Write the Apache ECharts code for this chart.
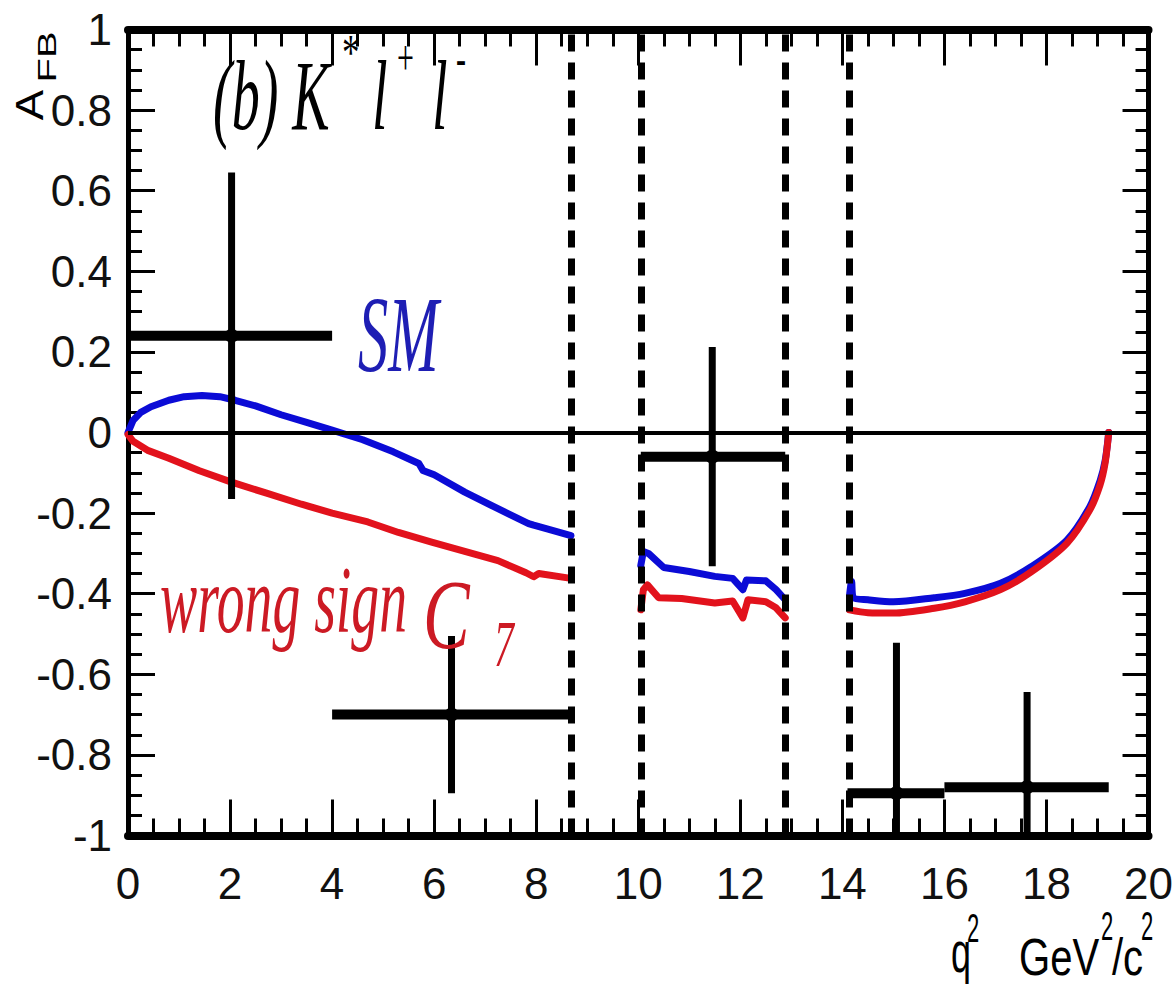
<!DOCTYPE html>
<html>
<head>
<meta charset="utf-8">
<script src="https://cdn.jsdelivr.net/npm/echarts@6/dist/echarts.min.js"></script>
<style>
html,body{margin:0;padding:0;background:#fff;}
#chart{width:1176px;height:997px;}
</style>
</head>
<body>
<div id="chart"></div>
<script>
// ---------------- data ----------------
const xTickLabels = ['0','2','4','6','8','10','12','14','16','18','20'];
const yTickLabels = ['-1','-0.8','-0.6','-0.4','-0.2','0','0.2','0.4','0.6','0.8','1'];

// veto regions (vertical dashed lines), q^2 in GeV^2/c^2
const vetoEdges = [8.68, 10.05, 12.88, 14.14];

// measured points: bin low, bin high, centre x, A_FB, error
const binLo  = [0.0, 4.0, 10.05, 14.1, 16.0];
const binHi  = [4.0, 8.68, 12.88, 16.0, 19.22];
const ptX    = [2.03, 6.34, 11.45, 15.06, 17.62];
const ptY    = [0.24, -0.70, -0.06, -0.895, -0.88];
const ptErr  = [0.405, 0.195, 0.272, 0.373, 0.236];

// SM prediction (blue), three q^2 segments
const smSeg1 = [[0,0.0],[0.1,0.03],[0.25,0.05],[0.45,0.064],[0.8,0.08],[1.1,0.089],[1.45,0.092],[1.8,0.089],[2.1,0.08],[2.5,0.066],[3.0,0.044],[3.5,0.025],[4.0,0.006],[4.6,-0.018],[5.2,-0.048],[5.7,-0.077],[5.78,-0.094],[6.0,-0.105],[6.6,-0.148],[7.2,-0.186],[7.85,-0.226],[7.95,-0.23],[8.3,-0.242],[8.68,-0.256]];
const smSeg2 = [[10.05,-0.33],[10.1,-0.295],[10.2,-0.3],[10.5,-0.335],[11.0,-0.345],[11.5,-0.357],[11.85,-0.362],[12.05,-0.39],[12.12,-0.366],[12.5,-0.368],[12.7,-0.39],[12.88,-0.415]];
const smSeg3 = [[14.14,-0.405],[14.18,-0.37],[14.22,-0.41],[14.5,-0.415],[15.0,-0.42],[15.8,-0.41],[16.4,-0.399],[17.1,-0.374],[17.7,-0.333],[18.4,-0.267],[18.85,-0.184],[19.05,-0.12],[19.15,-0.07],[19.22,0]];

// wrong-sign C7 prediction (red)
const c7Seg1 = [[0,-0.005],[0.1,-0.022],[0.4,-0.045],[0.8,-0.064],[1.4,-0.095],[2.0,-0.122],[2.7,-0.15],[3.4,-0.178],[4.0,-0.2],[4.7,-0.222],[5.3,-0.248],[5.95,-0.272],[6.6,-0.295],[7.25,-0.318],[7.8,-0.348],[7.95,-0.358],[8.05,-0.35],[8.68,-0.362]];
const c7Seg2 = [[10.05,-0.44],[10.1,-0.39],[10.18,-0.378],[10.4,-0.41],[10.85,-0.412],[11.5,-0.423],[11.85,-0.418],[12.05,-0.46],[12.15,-0.415],[12.5,-0.42],[12.7,-0.435],[12.88,-0.46]];
const c7Seg3 = [[14.14,-0.44],[14.5,-0.447],[15.0,-0.448],[15.8,-0.436],[16.4,-0.42],[17.1,-0.39],[17.7,-0.346],[18.4,-0.275],[18.85,-0.192],[19.05,-0.13],[19.15,-0.075],[19.22,0]];

// ---------------- chart ----------------
const SANS = '"Liberation Sans",Arial,sans-serif';
const SERIF = '"Liberation Serif","Times New Roman",serif';
const BLUE = '#0b0bd6';
const RED = '#e2121c';

const chart = echarts.init(document.getElementById('chart'), null, {renderer: 'svg'});

function axisCommon(majorLen, minorLen, lw) {
  return {
    axisLine: {show: true, onZero: false, lineStyle: {color: '#000', width: lw}},
    axisTick: {show: true, inside: true, length: majorLen, lineStyle: {color: '#000', width: 3}},
    minorTick: {show: true, splitNumber: 4, length: minorLen, lineStyle: {color: '#000', width: 3}},
    splitLine: {show: false},
    minorSplitLine: {show: false}
  };
}

const pointData = binLo.map((lo, i) => [lo, binHi[i], ptX[i], ptY[i], ptErr[i]]);

function renderPoint(params, api) {
  const lo = api.value(0), hi = api.value(1), x = api.value(2), y = api.value(3), e = api.value(4);
  const cs = params.coordSys;
  const rect = {x: cs.x, y: cs.y, width: cs.width, height: cs.height};
  const pL = api.coord([lo, y]), pR = api.coord([hi, y]);
  const pT = api.coord([x, y + e]), pB = api.coord([x, y - e]);
  const pc = api.coord([x, y]);
  const hb = echarts.graphic.clipRectByRect({x: pL[0], y: pL[1] - 5, width: pR[0] - pL[0], height: 10}, rect);
  const vb = echarts.graphic.clipRectByRect({x: pT[0] - 3.5, y: pT[1], width: 7, height: pB[1] - pT[1]}, rect);
  const children = [];
  if (hb) children.push({type: 'rect', shape: hb, style: {fill: '#000'}});
  if (vb) children.push({type: 'rect', shape: vb, style: {fill: '#000'}});
  children.push({type: 'circle', shape: {cx: pc[0], cy: pc[1], r: 7}, style: {fill: '#000'}});
  return {type: 'group', children};
}

function lineSeries(name, data, color, z, smooth) {
  return {
    name, type: 'line', data, z, smooth: smooth || false,
    symbol: 'none', showSymbol: false,
    lineStyle: {color, width: 7, cap: 'round', join: 'round'},
    itemStyle: {color}, silent: true
  };
}

const dash = {color: '#000', width: 7, type: [17, 11]};
const guideLines = [{yAxis: 0, lineStyle: {color: '#000', width: 4, type: 'solid'}}]
  .concat(vetoEdges.map(v => ({xAxis: v, lineStyle: dash})));

function txt(text, x, y, fs, family, o) {
  o = o || {};
  return {
    type: 'text', x, y, scaleX: o.sx || 1, scaleY: o.sy || 1, rotation: o.rot || 0,
    originX: 0, originY: 0, silent: true, z: 100,
    style: {
      text, x: 0, y: 0, fontSize: fs, fontFamily: family, fontStyle: o.italic ? 'italic' : 'normal',
      fill: o.fill || '#000', align: o.align || 'left', verticalAlign: 'middle'
    }
  };
}

const titleMain = '(b) K';
const titleStar = '*';
const lep = 'l';
const plus = '+';
const minus = '-';

const option = {
  animation: false,
  backgroundColor: '#fff',
  grid: {left: 128, right: 23, top: 29.5, bottom: 161.5, containLabel: false},
  xAxis: [
    Object.assign({
      type: 'value', position: 'bottom', min: 0, max: 20, interval: 2,
      axisLabel: {show: true, margin: 26, fontSize: 44, fontFamily: SANS, color: '#111',
        formatter: v => xTickLabels[Math.round(v / 2)]}
    }, axisCommon(36, 17, 8)),
    Object.assign({
      type: 'value', position: 'top', min: 0, max: 20, interval: 2,
      axisLabel: {show: false}
    }, axisCommon(36, 17, 8))
  ],
  yAxis: [
    Object.assign({
      type: 'value', position: 'left', min: -1, max: 1, interval: 0.2,
      axisLabel: {show: true, margin: 16, fontSize: 44, fontFamily: SANS, color: '#111',
        formatter: v => yTickLabels[Math.round((v + 1) / 0.2)]}
    }, axisCommon(27, 14, 5)),
    Object.assign({
      type: 'value', position: 'right', min: -1, max: 1, interval: 0.2,
      axisLabel: {show: false}
    }, axisCommon(26, 13, 5))
  ],
  series: [
    {
      name: 'guides', type: 'line', data: [], z: 1, silent: true,
      markLine: {silent: true, symbol: 'none', label: {show: false}, animation: false, data: guideLines}
    },
    lineSeries('SM', smSeg1, BLUE, 3),
    lineSeries('SM', smSeg2, BLUE, 3),
    lineSeries('SM', smSeg3, BLUE, 3, 0.3),
    lineSeries('wrong sign C7', c7Seg1, RED, 4),
    lineSeries('wrong sign C7', c7Seg2, RED, 4),
    lineSeries('wrong sign C7', c7Seg3, RED, 4, 0.3),
    {
      name: 'data', type: 'custom', renderItem: renderPoint, data: pointData, z: 10,
      encode: {x: [0, 1, 2], y: 3}, silent: true
    }
  ],
  graphic: [
    // y-axis title A_FB (rotated)
    txt('A', 30, 105, 38, SANS, {rot: Math.PI / 2, sx: 1.2, align: 'center'}),
    txt('FB', 47, 57, 25, SANS, {rot: Math.PI / 2, sx: 1.6, align: 'center'}),
    // x-axis title q^2  GeV^2/c^2
    txt('q', 951, 952, 58, SANS, {sx: 0.62}),
    txt('2', 967, 928, 40, SANS, {sx: 0.55}),
    txt('GeV', 1019, 957, 52, SANS, {sx: 0.77}),
    txt('2', 1101, 926, 40, SANS, {sx: 0.55}),
    txt('/c', 1112, 957, 52, SANS, {sx: 0.77}),
    txt('2', 1141, 926, 40, SANS, {sx: 0.55}),
    // panel label (b) K* l+ l-
    txt(titleMain, 213, 96, 100, SERIF, {italic: true, sx: 0.56}),
    txt(titleStar, 342, 52, 50, SERIF, {sx: 0.7}),
    txt(lep, 372, 96, 100, SERIF, {italic: true, sx: 0.56}),
    txt(plus, 397, 58, 50, SERIF, {sx: 0.6}),
    txt(lep, 432, 96, 100, SERIF, {italic: true, sx: 0.56}),
    txt(minus, 456, 58, 50, SERIF, {sx: 0.6}),
    // curve labels
    txt('SM', 358, 335, 108, SERIF, {italic: true, sx: 0.56, fill: '#1e1eb4'}),
    txt('wrong sign', 160, 600, 96, SERIF, {italic: true, sx: 0.58, fill: '#cc1a24'}),
    txt('C', 423, 614, 100, SERIF, {italic: true, sx: 0.7, fill: '#cc1a24'}),
    txt('7', 494, 644, 66, SERIF, {italic: true, sx: 0.6, fill: '#cc1a24'})
  ]
};

chart.setOption(option);
</script>
</body>
</html>
